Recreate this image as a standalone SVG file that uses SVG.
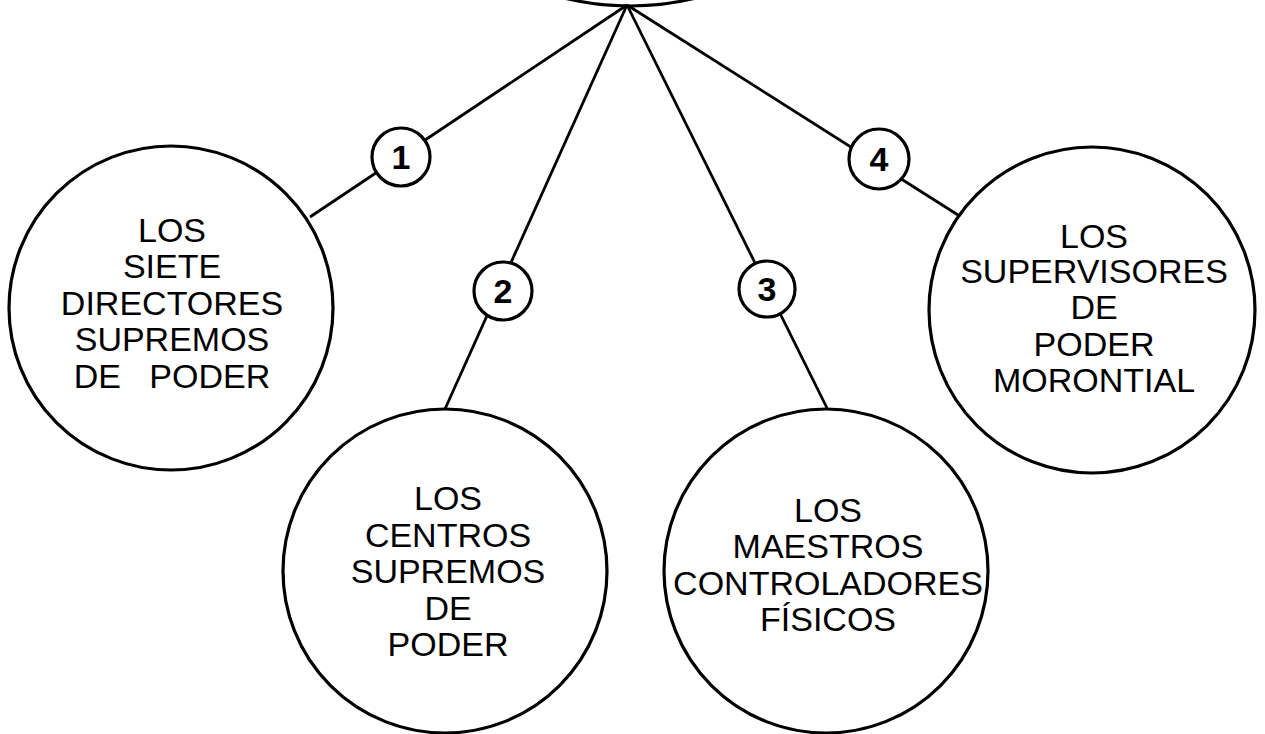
<svg xmlns="http://www.w3.org/2000/svg" width="1265" height="734" viewBox="0 0 1265 734">
<style>
.big{fill:#fff;stroke:#000;stroke-width:3.2}
.num{fill:#fff;stroke:#000;stroke-width:3.2}
.conn{stroke:#000;stroke-width:2.8;fill:none}
.lbl{font-family:"Liberation Sans",Arial,sans-serif;font-size:34px;fill:#000;text-anchor:middle}
.n{font-family:"Liberation Sans",Arial,sans-serif;font-size:34px;font-weight:bold;fill:#000;text-anchor:middle}
</style>
<rect width="1265" height="734" fill="#fff"/>
<g id="top">
<circle class="big" cx="630" cy="-268" r="274"/>
</g>
<g id="connectors">
<line class="conn" x1="627" y1="5" x2="310" y2="217"/>
<line class="conn" x1="627" y1="5" x2="445" y2="409"/>
<line class="conn" x1="627" y1="5" x2="827" y2="408"/>
<line class="conn" x1="627" y1="5" x2="958" y2="215"/>
</g>
<g id="node1">
<circle class="big" cx="171" cy="308" r="162"/>
<text class="lbl" xml:space="preserve"><tspan x="172" y="242">LOS</tspan><tspan x="172" y="278">SIETE</tspan><tspan x="172" y="315">DIRECTORES</tspan><tspan x="172" y="351">SUPREMOS</tspan><tspan x="172" y="388">DE   PODER</tspan></text>
</g>
<g id="node2">
<circle class="big" cx="445" cy="571" r="162"/>
<text class="lbl"><tspan x="448" y="510">LOS</tspan><tspan x="448" y="547">CENTROS</tspan><tspan x="448" y="583">SUPREMOS</tspan><tspan x="448" y="620">DE</tspan><tspan x="448" y="656">PODER</tspan></text>
</g>
<g id="node3">
<circle class="big" cx="826" cy="571" r="162"/>
<text class="lbl"><tspan x="828" y="522">LOS</tspan><tspan x="828" y="558">MAESTROS</tspan><tspan x="828" y="595">CONTROLADORES</tspan><tspan x="828" y="631">FÍSICOS</tspan></text>
</g>
<g id="node4">
<circle class="big" cx="1092" cy="310" r="163"/>
<text class="lbl"><tspan x="1094" y="248">LOS</tspan><tspan x="1094" y="283">SUPERVISORES</tspan><tspan x="1094" y="319">DE</tspan><tspan x="1094" y="356">PODER</tspan><tspan x="1094" y="392">MORONTIAL</tspan></text>
</g>
<g id="badge1">
<circle class="num" cx="401" cy="157" r="29"/>
<text class="n" x="401" y="169">1</text>
</g>
<g id="badge2">
<circle class="num" cx="503" cy="291" r="29"/>
<text class="n" x="503" y="303">2</text>
</g>
<g id="badge3">
<circle class="num" cx="767" cy="289" r="28"/>
<text class="n" x="767" y="301">3</text>
</g>
<g id="badge4">
<circle class="num" cx="879" cy="159" r="30"/>
<text class="n" x="879" y="171">4</text>
</g>
</svg>
